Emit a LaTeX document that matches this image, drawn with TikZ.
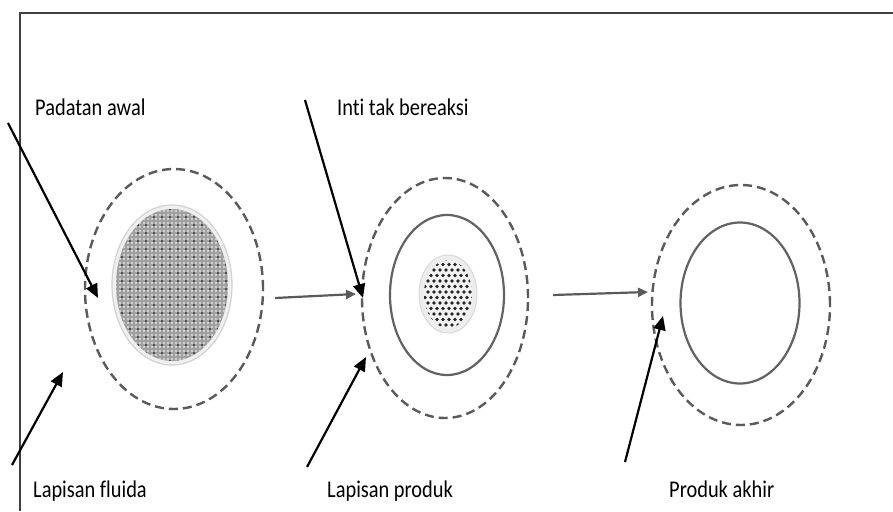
\documentclass[tikz,border=0pt]{standalone}
\usepackage{fontspec}
\setmainfont{Carlito}[Ligatures={NoCommon}]
\usetikzlibrary{arrows.meta,shapes.geometric}
\definecolor{framec}{HTML}{404040}
\definecolor{dashc}{HTML}{5A5A5A}
\tikzset{
  lbl/.style={anchor=base west,inner sep=0pt,font=\fontsize{24}{28}\selectfont},
  fluidring/.style={ellipse,draw=dashc,line width=2.4pt,dash pattern=on 9pt off 5pt,inner sep=0pt},
  productring/.style={ellipse,draw=dashc!95,line width=2.2pt,inner sep=0pt},
  pointer/.style={draw=black,line width=2.2pt,-{Triangle[length=14pt,width=12pt]}},
  flow/.style={draw=dashc,line width=2.2pt,-{Triangle[length=10pt,width=9pt]}}
}
\newcommand{\sq}[1]{\scalebox{0.85}[1]{#1}}
\begin{document}
\begin{tikzpicture}[x=1pt,y=-1pt]
\useasboundingbox (0,0) rectangle (893,511);
\fill[white] (0,0) rectangle (893,511);
% frame
\draw[framec,line width=2.2pt] (893,13) -- (20,13) -- (20,511);

% stage 1
\node[fluidring,minimum width=178pt,minimum height=240pt] (f1) at (174,289) {};
\fill[gray!12] (172,285) ellipse [x radius=60, y radius=80];
\draw[gray!35,line width=1.2pt] (172,285) ellipse [x radius=60, y radius=80];
\begin{scope}
\clip (172,285) ellipse [x radius=56, y radius=76];
\fill[gray!75] (110,205) rectangle (235,365);
\foreach \i in {0,...,31}{\foreach \j in {0,...,40}{
  \fill[gray!25] (112+\i*4,207+\j*4) circle (1.1);}}
\foreach \i in {0,...,15}{\foreach \j in {0,...,20}{
  \fill[black] (114+\i*8,209+\j*8) circle (0.8);}}
\end{scope}
\node[inner sep=0pt,minimum size=0pt] (s1) at (172,285) {};

% stage 2
\node[fluidring,minimum width=166pt,minimum height=240pt] (f2) at (445,298) {};
\node[productring,minimum width=114pt,minimum height=160pt] (p2) at (447,295) {};
\fill[gray!14] (448,294) ellipse [x radius=29, y radius=39];
\draw[gray!30,line width=1pt] (448,294) ellipse [x radius=29, y radius=39];
\begin{scope}
\clip (448,294) ellipse [x radius=24, y radius=34];
\fill[gray!10] (420,255) rectangle (476,333);
\foreach \i in {0,...,9}{\foreach \j in {0,...,13}{
  \fill[black!85] ({422+\i*6+mod(\j,2)*3},{259+\j*5.5}) circle (1.9);}}
\end{scope}
\node[inner sep=0pt,minimum size=0pt] (c2) at (448,294) {};

% stage 3
\node[fluidring,minimum width=178pt,minimum height=240pt] (f3) at (741,305) {};
\node[productring,minimum width=119pt,minimum height=161pt] (p3) at (740,303) {};

% labels
\node[lbl] (t1) at (35,115) {\sq{Padatan awal}};
\node[lbl] (t2) at (337,115) {\sq{Inti tak bereaksi}};
\node[lbl] (t3) at (33,497) {\sq{Lapisan fluida}};
\node[lbl] (t4) at (327,497) {\sq{Lapisan produk}};
\node[lbl] (t5) at (669,497) {\sq{Produk akhir}};

% pointer coordinates
\coordinate (a1s) at (8,123);   \coordinate (a1e) at (98,298);
\coordinate (a2s) at (305,100); \coordinate (a2e) at (363,298);
\coordinate (b1s) at (12,465);  \coordinate (b1e) at (63,372);
\coordinate (b2s) at (307,467); \coordinate (b2e) at (366,357);
\coordinate (b3s) at (625,462); \coordinate (b3e) at (663,316);
\coordinate (h1s) at (275,298); \coordinate (h1e) at (356,294);
\coordinate (h2s) at (553,295); \coordinate (h2e) at (648,292);

\draw[pointer] (a1s) -- (a1e);
\draw[pointer] (a2s) -- (a2e);
\draw[pointer] (b1s) -- (b1e);
\draw[pointer] (b2s) -- (b2e);
\draw[pointer] (b3s) -- (b3e);
\draw[flow] (h1s) -- (h1e);
\draw[flow] (h2s) -- (h2e);
\end{tikzpicture}
\end{document}
